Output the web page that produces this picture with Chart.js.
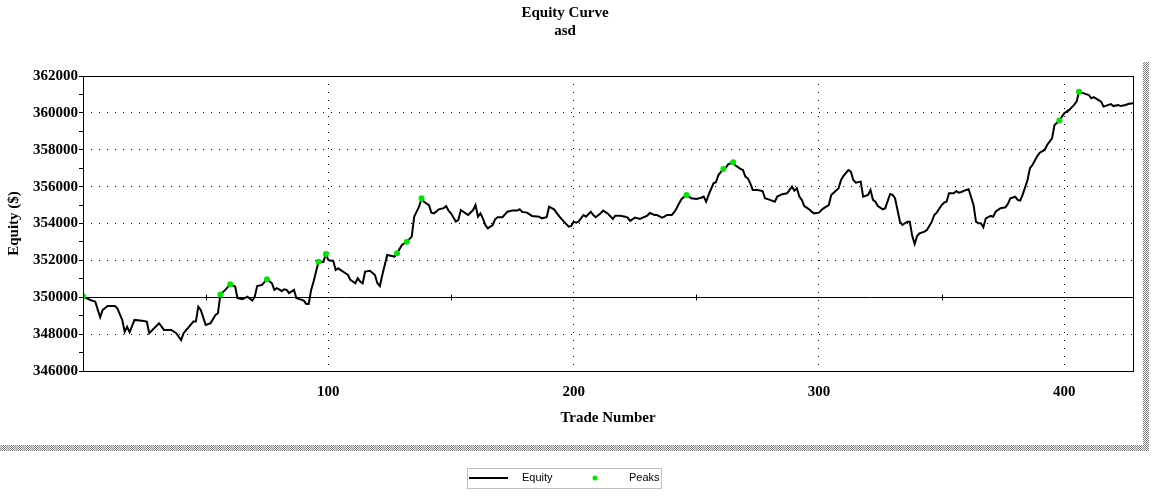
<!DOCTYPE html>
<html>
<head>
<meta charset="utf-8">
<script src="https://cdn.jsdelivr.net/npm/chart.js@4/dist/chart.umd.min.js"></script>
<style>
  body { margin: 0; background: #fff; }
  canvas { display: block; }
</style>
</head>
<body>
<canvas id="myChart" width="1158" height="497"></canvas>
<script>
// trade numbers and equity
var tradeNo = [
  0, 3, 5, 7, 8, 10, 13, 14, 16, 17,
  18, 19, 21, 24, 26, 27, 31, 33, 36, 38,
  40, 41, 45, 46, 47, 48, 50, 52, 54, 55,
  56, 58, 60, 62, 63, 65, 67, 69, 70, 71,
  73, 75, 77, 78, 79, 81, 82, 83, 84, 86,
  87, 88, 90, 91, 92, 93, 94, 96, 98, 99,
  100, 101, 102, 103, 104, 107, 108, 109, 111, 112,
  113, 114, 115, 117, 119, 120, 121, 122, 124, 126,
  127, 128, 130, 132, 134, 135, 137, 138, 139, 141,
  142, 143, 144, 145, 147, 148, 149, 150, 152, 153,
  154, 156, 157, 159, 160, 161, 162, 163, 164, 165,
  167, 168, 169, 171, 173, 175, 177, 178, 179, 181,
  183, 186, 187, 189, 190, 192, 194, 196, 198, 199,
  200, 201, 202, 204, 205, 207, 208, 209, 211, 212,
  214, 216, 217, 219, 221, 222, 223, 225, 227, 230,
  231, 233, 234, 236, 237, 238, 240, 241, 242, 243,
  244, 246, 248, 250, 252, 253, 254, 255, 257, 258,
  259, 261, 262, 263, 265, 266, 268, 269, 270, 271,
  272, 273, 275, 277, 278, 280, 282, 283, 285, 287,
  289, 290, 291, 292, 293, 294, 296, 297, 298, 300,
  301, 302, 304, 305, 306, 308, 309, 310, 312, 313,
  314, 315, 317, 318, 320, 321, 322, 323, 324, 326,
  327, 329, 330, 331, 333, 334, 336, 337, 338, 339,
  340, 341, 343, 344, 346, 347, 348, 350, 351, 352,
  353, 355, 356, 357, 358, 360, 361, 363, 364, 365,
  366, 367, 368, 370, 371, 372, 374, 376, 377, 378,
  380, 381, 382, 383, 385, 386, 387, 389, 390, 392,
  393, 395, 396, 398, 399, 400, 402, 404, 405, 406,
  408, 410, 411, 412, 415, 416, 419, 420, 422, 423,
  425, 426, 428
];
var equity = [
  350050, 349850, 349760, 348910, 349310, 349530, 349530, 349400, 348770, 348130,
  348400, 348100, 348770, 348730, 348680, 348050, 348590, 348230, 348230, 348050,
  347680, 348050, 348680, 348680, 349490, 349310, 348500, 348590, 349040, 349130,
  350150, 350400, 350700, 350580, 349950, 349890, 350030, 349820, 350030, 350610,
  350670, 350980, 350760, 350400, 350490, 350340, 350430, 350400, 350220, 350400,
  349950, 349910, 349820, 349640, 349640, 350400, 350850, 351930, 351920, 352350,
  352020, 351980, 351980, 351480, 351570, 351300, 351210, 350940, 350760, 351030,
  350850, 350760, 351390, 351440, 351210, 350760, 350610, 351210, 352290, 352240,
  352200, 352390, 352840, 353010, 353290, 354370, 354910, 355370, 355180, 355000,
  354590, 354550, 354640, 354770, 354830, 354950, 354700, 354550, 354100, 354190,
  354730, 354550, 354460, 354730, 355000, 354370, 354550, 354280, 353920, 353740,
  353920, 354230, 354340, 354340, 354640, 354700, 354700, 354770, 354630, 354590,
  354410, 354370, 354280, 354340, 354910, 354770, 354410, 354100, 353830, 353870,
  354100, 354050, 354100, 354460, 354370, 354640, 354460, 354340, 354550, 354700,
  354530, 354250, 354420, 354420, 354370, 354320, 354140, 354320, 354250, 354420,
  354570, 354460, 354460, 354320, 354370, 354460, 354460, 354610, 354830, 355100,
  355330, 355550, 355370, 355330, 355400, 355460, 355180, 355550, 356180, 356240,
  356630, 356960, 357030, 357210, 357320, 357140, 356960, 356900, 356540, 356450,
  356180, 355820, 355820, 355760, 355370, 355280, 355180, 355460, 355590, 355640,
  356000, 355780, 355910, 355460, 355280, 354950, 354770, 354640, 354550, 354590,
  354730, 354830, 355000, 355550, 355670, 355910, 356360, 356580, 356900, 356810,
  356360, 356210, 356270, 355460, 355550, 355820, 355280, 355180, 354950, 354770,
  354830, 355600, 355550, 355370, 354100, 353920, 354100, 354100, 353330, 352890,
  353320, 353470, 353560, 353650, 354100, 354460, 354590, 355000, 355130, 355180,
  355640, 355640, 355760, 355670, 355710, 355820, 355860, 355000, 354100, 354010,
  354010, 353800, 354280, 354410, 354370, 354640, 354830, 354880, 355060, 355370,
  355450, 355280, 355240, 355550, 356360, 357000, 357170, 357660, 357840, 357990,
  358260, 358620, 359340, 359580, 359790, 359980, 360160, 360430, 360610, 361150,
  361060, 360970, 360790, 360850, 360610, 360340, 360480, 360370, 360430, 360370,
  360430, 360480, 360520
];
var peakTrades = [0, 56, 60, 75, 96, 99, 128, 132, 138, 246, 261, 265, 398, 406];
var peakEquity = [350050, 350150, 350700, 350980, 351930, 352350, 352390, 353010, 355370, 355550, 356960, 357320, 359580, 361150];

var serif = 'bold 15px "Liberation Serif", "Times New Roman", serif';
var green = '#00e600';

function makeHatch(ctx) {
  var c = document.createElement('canvas');
  c.width = 2; c.height = 2;
  var p = c.getContext('2d');
  p.fillStyle = '#ffffff'; p.fillRect(0, 0, 2, 2);
  p.fillStyle = '#7a7a7a'; p.fillRect(0, 0, 1, 1); p.fillRect(1, 1, 1, 1);
  return ctx.createPattern(c, 'repeat');
}

var framePlugin = {
  id: 'frame',
  beforeDraw: function(chart) {
    var ctx = chart.ctx;
    ctx.save();
    ctx.fillStyle = '#fff';
    ctx.fillRect(0, 0, chart.width, chart.height);
    // shadow of the panel
    ctx.fillStyle = makeHatch(ctx);
    ctx.fillRect(1143, 62, 6, 389);
    ctx.fillRect(0, 445, 1149, 6);
    ctx.restore();
  },
  beforeDatasetsDraw: function(chart) {
    var ctx = chart.ctx, a = chart.chartArea;
    var xs = chart.scales.x, ys = chart.scales.y;
    var y0 = Math.round(ys.getPixelForValue(350000)) + 0.5;
    ctx.save();
    ctx.strokeStyle = '#000';
    ctx.lineWidth = 1;
    ctx.beginPath();
    ctx.moveTo(a.left, y0);
    ctx.lineTo(a.right, y0);
    [50, 150, 250, 350].forEach(function(t) {
      var x = Math.round(xs.getPixelForValue(t)) + 0.5;
      ctx.moveTo(x, y0 - 3);
      ctx.lineTo(x, y0 + 3);
    });
    ctx.stroke();
    ctx.restore();
  },
  afterDraw: function(chart) {
    var ctx = chart.ctx, a = chart.chartArea;
    ctx.save();
    ctx.strokeStyle = '#000';
    ctx.lineWidth = 1;
    ctx.strokeRect(Math.round(a.left) + 0.5, Math.round(a.top) + 0.5,
      Math.round(a.right - a.left), Math.round(a.bottom - a.top));

    ctx.fillStyle = '#000';
    ctx.font = serif;
    ctx.textAlign = 'center';
    ctx.textBaseline = 'middle';
    ctx.fillText('Equity Curve', 565, 13);
    ctx.fillText('asd', 565, 31);
    ctx.fillText('Trade Number', (a.left + a.right) / 2, 418);
    ctx.save();
    ctx.translate(14, (a.top + a.bottom) / 2);
    ctx.rotate(-Math.PI / 2);
    ctx.fillText('Equity ($)', 0, 0);
    ctx.restore();

    // legend box
    ctx.strokeStyle = '#c0c0c0';
    ctx.strokeRect(467.5, 468.5, 194, 20);
    ctx.strokeStyle = '#000';
    ctx.lineWidth = 2;
    ctx.beginPath();
    ctx.moveTo(469, 478);
    ctx.lineTo(508, 478);
    ctx.stroke();
    ctx.fillStyle = green;
    ctx.beginPath();
    ctx.arc(595, 478, 2.5, 0, Math.PI * 2);
    ctx.fill();
    ctx.fillStyle = '#000';
    ctx.font = '11px "Liberation Sans", Arial, sans-serif';
    ctx.textAlign = 'left';
    ctx.fillText('Equity', 522, 478);
    ctx.fillText('Peaks', 629, 478);
    ctx.restore();
  }
};

var ctx = document.getElementById('myChart').getContext('2d');
var myChart = new Chart(ctx, {
  type: 'line',
  data: {
    datasets: [{
      label: 'Equity',
      data: tradeNo.map(function(t, i) { return { x: t, y: equity[i] }; }),
      borderColor: '#000',
      borderWidth: 2,
      pointRadius: 0,
      tension: 0,
      order: 1
    }, {
      label: 'Peaks',
      data: peakTrades.map(function(t, i) { return { x: t, y: peakEquity[i] }; }),
      showLine: false,
      pointRadius: 3,
      pointBorderWidth: 0,
      pointBackgroundColor: green,
      pointBorderColor: green,
      order: 0
    }]
  },
  options: {
    responsive: false,
    animation: false,
    layout: { padding: { top: 76, right: 25, left: 0, bottom: 0 } },
    plugins: {
      legend: { display: false },
      title: { display: false },
      tooltip: { enabled: false }
    },
    scales: {
      x: {
        type: 'linear',
        min: 0,
        max: 428,
        afterFit: function(s) { s.height = 126; },
        border: { display: false, dash: [1, 7] },
        grid: {
          drawTicks: false,
          color: function(c) {
            var v = c.tick ? c.tick.value : -1;
            return (v > 0 && v < 428 && v % 100 === 0) ? '#000' : 'rgba(0,0,0,0)';
          }
        },
        ticks: {
          stepSize: 50,
          autoSkip: false,
          maxRotation: 0,
          padding: 12,
          color: '#000',
          font: { family: '"Liberation Serif"', size: 15, weight: 'bold' },
          callback: function(v) { return (v > 0 && v % 100 === 0) ? v : ''; }
        }
      },
      y: {
        min: 346000,
        max: 362000,
        afterFit: function(s) { s.width = 83; },
        border: { display: false, dash: [1, 7] },
        grid: {
          tickLength: 4,
          tickColor: '#000',
          color: function(c) {
            var v = c.tick ? c.tick.value : 0;
            return (v % 2000 === 0 && v !== 350000 && v > 346000 && v < 362000) ? '#000' : 'rgba(0,0,0,0)';
          }
        },
        ticks: {
          stepSize: 1000,
          autoSkip: false,
          padding: 1,
          color: '#000',
          font: { family: '"Liberation Serif"', size: 15, weight: 'bold' },
          callback: function(v) { return v % 2000 === 0 ? v : ''; }
        }
      }
    }
  },
  plugins: [framePlugin]
});
</script>
</body>
</html>
